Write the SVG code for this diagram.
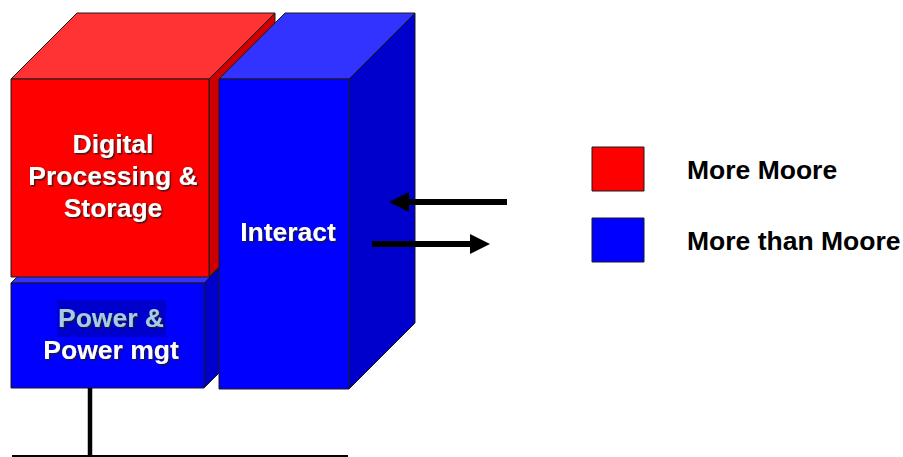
<svg xmlns="http://www.w3.org/2000/svg" width="903" height="457" viewBox="0 0 903 457">
<defs>
<filter id="sh" x="-10%" y="-20%" width="130%" height="150%">
<feDropShadow dx="1.5" dy="1.5" stdDeviation="0.6" flood-color="#222" flood-opacity="0.85"/>
</filter>
</defs>
<style>
.edge{stroke:#1a1a1a;stroke-width:1;stroke-linejoin:round}
.rf{fill:#FF0000}.rt{fill:#FF3333}.rs{fill:#CC0000}
.bf{fill:#0000FF}.bt{fill:#3333FF}.bs{fill:#0000CC}
.lbl{font-family:"Liberation Sans",Arial,sans-serif;font-weight:bold;font-size:26.5px;text-anchor:middle}
.w{fill:#FFFFFF}
.leg{font-family:"Liberation Sans",Arial,sans-serif;font-weight:bold;font-size:26.5px;fill:#000}
.conn{stroke:#000;fill:none}
</style>
<rect width="903" height="457" fill="#FFFFFF"/>

<g id="power">
<polygon class="bt edge" points="11,283 204,283 270,217 77,217"/>
<polygon class="bs edge" points="204,283 270,217 270,322 204,388"/>
<rect class="bf edge" x="11" y="283" width="193" height="105"/>
<rect x="57" y="300" width="109" height="37" fill="#0000CC"/>
<text class="lbl" x="111" y="327" fill="#A6CBE6" filter="url(#sh)">Power &amp;</text>
<text class="lbl w" x="111" y="359" filter="url(#sh)">Power mgt</text>
</g>

<g id="digital">
<polygon class="rt edge" points="11,79 209,79 275,13 77,13"/>
<polygon class="rs edge" points="209,79 275,13 275,211 209,277"/>
<rect class="rf edge" x="11" y="79" width="198" height="198"/>
<text class="lbl w" x="113" y="153" filter="url(#sh)">Digital</text>
<text class="lbl w" x="113" y="185" filter="url(#sh)">Processing &amp;</text>
<text class="lbl w" x="113" y="217" filter="url(#sh)">Storage</text>
</g>

<g id="interact">
<polygon class="bt edge" points="219,79 349,79 415,13 285,13"/>
<polygon class="bs edge" points="349,79 415,13 415,323 349,389"/>
<rect class="bf edge" x="219" y="79" width="130" height="310"/>
<text class="lbl w" x="288" y="241" filter="url(#sh)">Interact</text>
</g>

<g id="legend-more-moore">
<rect class="rf edge" x="592" y="147" width="52" height="44"/>
<text class="leg" x="687" y="179">More Moore</text>
</g>
<g id="legend-more-than-moore">
<rect class="bf edge" x="592" y="218" width="52" height="44"/>
<text class="leg" x="687" y="250">More than Moore</text>
</g>

<g id="connectors">
<line class="conn" x1="507" y1="202" x2="406" y2="202" stroke-width="6"/>
<polygon points="389,202 409,192 409,212" fill="#000"/>
<line class="conn" x1="372" y1="244" x2="473" y2="244" stroke-width="6"/>
<polygon points="490,244 470,234 470,254" fill="#000"/>
<line class="conn" x1="90" y1="388" x2="90" y2="457" stroke-width="4.5"/>
<line class="conn" x1="12" y1="457" x2="348" y2="457" stroke-width="4"/>
</g>
</svg>
